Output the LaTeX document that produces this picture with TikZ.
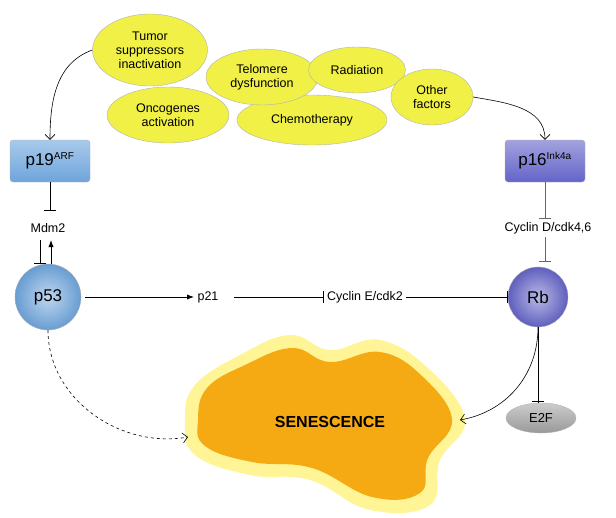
\documentclass[tikz,border=0pt]{standalone}
\usepackage{fontspec}
\setmainfont{Liberation Sans}
\usetikzlibrary{shapes.geometric,arrows.meta}
\definecolor{yel}{RGB}{240,240,70}
\definecolor{lblue}{RGB}{110,165,220}
\definecolor{dblue}{RGB}{100,100,200}
\definecolor{orng}{RGB}{245,170,20}
\definecolor{pale}{RGB}{255,245,150}
\begin{document}
\begin{tikzpicture}[x=1pt,y=-1pt,
  cause/.style={ellipse,draw=gray!60,fill=yel,inner sep=0pt,align=center,font=\fontsize{12.5}{14}\selectfont},
  box/.style={rectangle,rounded corners=3pt,draw=gray!60,minimum width=80pt,minimum height=42pt,font=\fontsize{17}{18}\selectfont},
  ball/.style={circle,draw=gray!60,font=\fontsize{17}{18}\selectfont},
  lab/.style={font=\fontsize{12.5}{14}\selectfont},
  inh/.style={-{Bar[width=12pt]},line width=0.9pt},
  act/.style={-{Latex[length=7pt]},line width=0.9pt},
  thin/.style={-{Straight Barb[length=5pt]},line width=0.6pt}]
\useasboundingbox (0,0) rectangle (616,517);
% blob
\path[fill=pale] plot[smooth cycle,tension=0.7] coordinates{(195,385)(240,355)(290,335)(330,350)(380,340)(430,370)(465,420)(440,460)(430,505)(370,510)(310,480)(250,475)(195,455)(185,420)};
\path[fill=orng] plot[smooth cycle,tension=0.7] coordinates{(207,388)(245,365)(292,348)(330,362)(380,352)(422,376)(452,420)(428,458)(420,493)(372,497)(312,468)(252,462)(205,446)(198,420)};
\node[font=\bfseries\fontsize{16}{18}\selectfont] (sen) at (330,422) {SENESCENCE};
\coordinate (senL) at (188,437);
\coordinate (senR) at (460,420);
% causes
\node[cause,minimum width=115pt,minimum height=72pt] (tum) at (150,50) {Tumor\\suppressors\\inactivation};
\node[cause,minimum width=122pt,minimum height=56pt] (onc) at (168,115) {Oncogenes\\activation};
\node[cause,minimum width=150pt,minimum height=50pt] (che) at (312,120) {Chemotherapy};
\node[cause,minimum width=112pt,minimum height=56pt] (tel) at (262,77) {Telomere\\dysfunction};
\node[cause,minimum width=97pt,minimum height=46pt] (rad) at (357,70) {Radiation};
\node[cause,minimum width=82pt,minimum height=56pt] (oth) at (432,97) {Other\\factors};
% boxes
\node[box,top color=lblue!60,bottom color=lblue] (p19) at (50,161) {p19\textsuperscript{\fontsize{10}{11}\selectfont ARF}};
\node[box,top color=dblue!60,bottom color=dblue] (p16) at (545,161) {p16\textsuperscript{\fontsize{10}{11}\selectfont Ink4a}};
\draw[thin] (tum.west) to[out=200,in=90] (p19.north);
\draw[thin] (oth.east) to[out=-10,in=90] (p16.north);
% left column
\node[lab] (mdm) at (48,228) {Mdm2};
\node[ball,minimum size=66pt,inner color=lblue!45,outer color=lblue!95!black] (p53) at (48,297) {p53};
\draw[inh] (p19.south) -- (50,211);
\draw[inh] (40,240) -- (40,264);
\draw[act] (51,264) -- (51,240);
% middle
\node[lab] (p21) at (208,297) {p21};
\node[lab] (cyE) at (365,297) {Cyclin E/cdk2};
\node[ball,minimum size=60pt,inner color=dblue!45,outer color=dblue!95!black] (rb) at (538,297) {Rb};
\draw[act] (p53.east) ++(4,0) -- (p21.west);
\draw[inh] (p21.east) ++(12,0) -- (cyE.west);
\draw[inh] (cyE.east) -- (rb.west);
% right column
\node[lab] (cyD) at (548,228) {Cyclin D/cdk4,6};
\draw[inh,gray!80!black] (p16.south) -- (cyD.north-|p16.south);
\draw[inh,gray!80!black] (cyD.south-|p16.south) -- (545,262);
\node[ellipse,draw=gray!60,top color=gray!40,bottom color=gray!80,minimum width=70pt,minimum height=30pt,inner sep=0pt,font=\fontsize{13}{14}\selectfont] (e2f) at (541,418) {E2F};
\draw[inh,line width=0.6pt] (rb.south) -- (rb.south|-e2f.north) ++(0,-2);
\draw[thin] (rb.south) to[out=-90,in=10] (senR);
\draw[thin,dashed] (p53.south) to[out=-90,in=190] (senL);
\end{tikzpicture}
\end{document}
